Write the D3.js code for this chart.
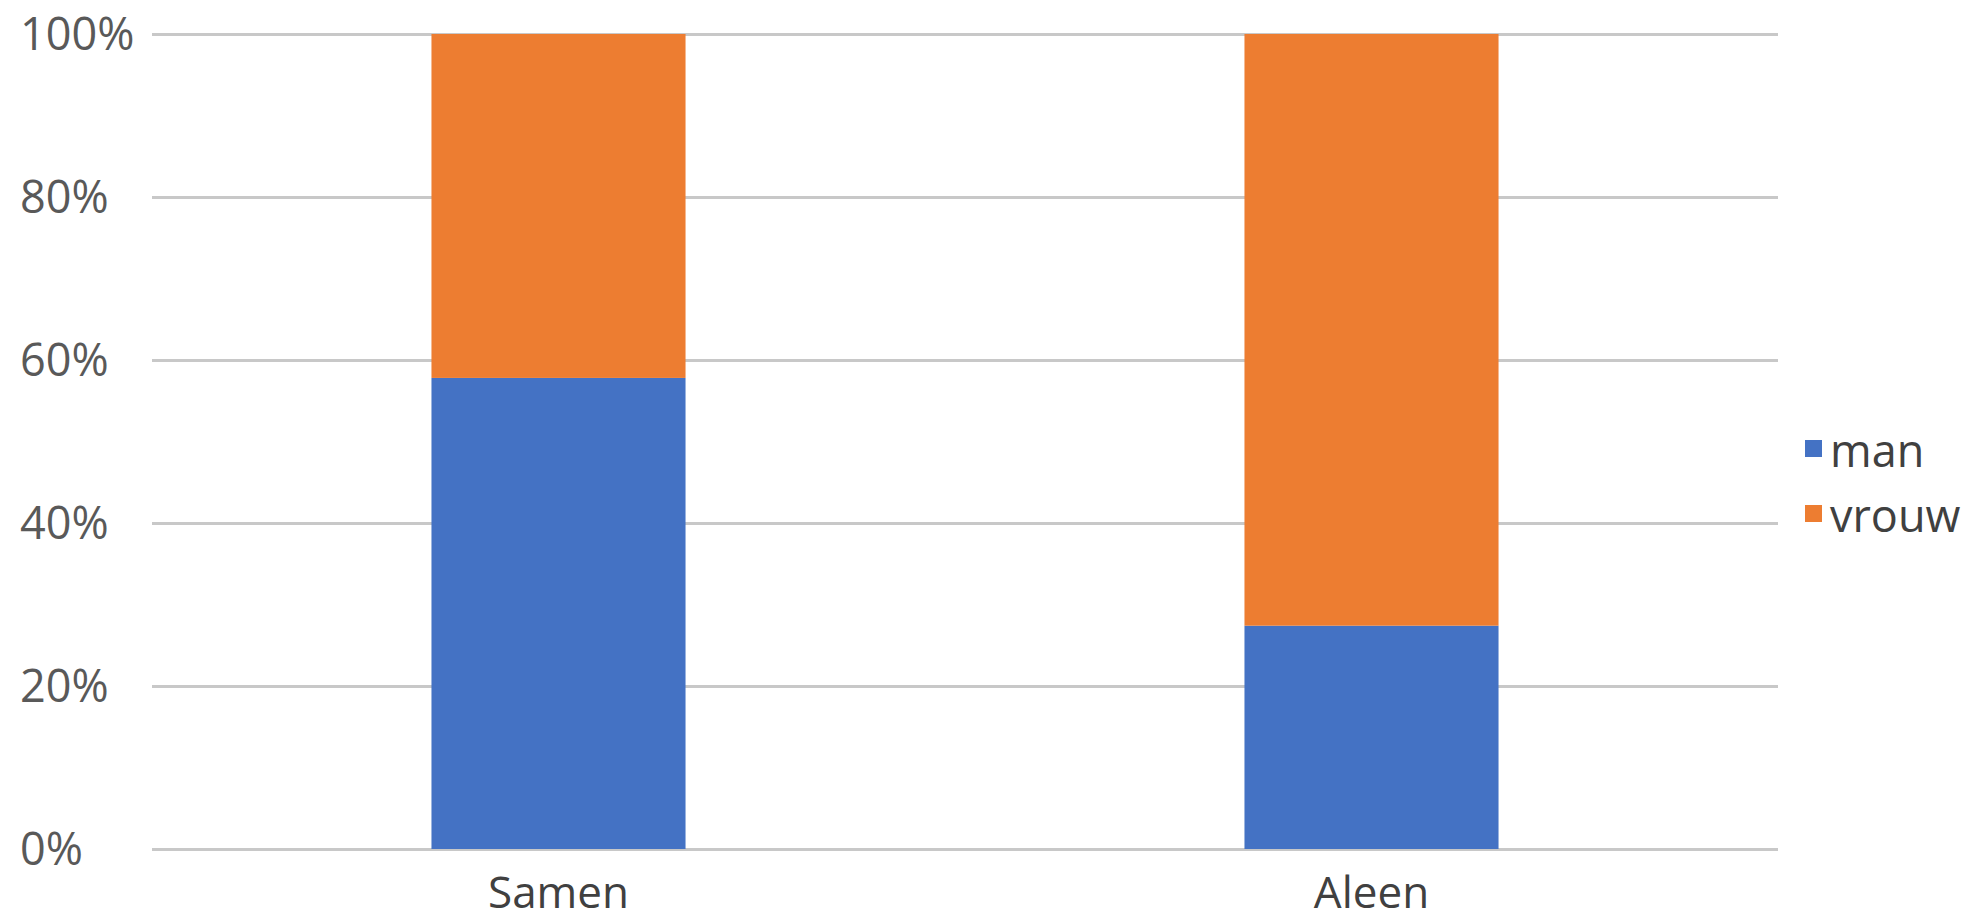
<!DOCTYPE html>
<html>
<head>
<meta charset="utf-8">
<script src="https://cdn.jsdelivr.net/npm/d3@7"></script>
<style>
  html, body { margin: 0; padding: 0; background: #ffffff; }
  svg { display: block; }
</style>
</head>
<body>
<svg id="chart" width="1972" height="920"></svg>
<script>
// ---- data ----
const categories = ["Samen", "Aleen"];
const seriesNames = ["man", "vrouw"];
const manValues = [57.8, 27.4];
const vrouwValues = [42.2, 72.6];
const yTicks = [0, 20, 40, 60, 80, 100];
const seriesColors = ["#4472C4", "#ED7D31"];

// ---- layout ----
const svg = d3.select("#chart");
const plot = { left: 152, right: 1778, top: 34, bottom: 849 };
const fontFamily = "'Open Sans', 'Noto Sans', sans-serif";

const x = d3.scaleBand()
  .domain(categories)
  .range([plot.left, plot.right])
  .paddingInner(0.6875)
  .paddingOuter(0.34375);

const y = d3.scaleLinear().domain([0, 100]).range([plot.bottom, plot.top]);

// table built from arrays
const table = categories.map((c, i) => ({ cat: c, man: manValues[i], vrouw: vrouwValues[i] }));
const stacked = d3.stack().keys(seriesNames)(table);

// gridlines via axis
const gridAxis = d3.axisLeft(y).tickValues(yTicks).tickSize(-(plot.right - plot.left)).tickFormat("");
const gridG = svg.append("g").attr("transform", `translate(${plot.left},0)`).call(gridAxis);
gridG.select(".domain").remove();
gridG.selectAll(".tick line").attr("stroke", "#c8c8c8").attr("stroke-width", 3);

// bars
const color = d3.scaleOrdinal().domain(seriesNames).range(seriesColors);
svg.append("g").selectAll("g")
  .data(stacked)
  .join("g")
  .attr("fill", d => color(d.key))
  .selectAll("rect")
  .data(d => d)
  .join("rect")
  .attr("x", d => x(d.data.cat))
  .attr("width", x.bandwidth())
  .attr("y", d => y(d[1]))
  .attr("height", d => y(d[0]) - y(d[1]));

// y labels (left-aligned)
const yLab = svg.append("g");
yLab.selectAll("text")
  .data(yTicks)
  .join("text")
  .attr("x", 20)
  .attr("y", d => y(d))
  .attr("dy", "0.35em")
  .attr("font-family", fontFamily)
  .attr("font-size", 45)
  .attr("fill", "#595959")
  .text(d => d + "%");

// x labels
const xAxis = d3.axisBottom(x).tickSize(0).tickPadding(0);
const xG = svg.append("g").attr("transform", `translate(0,${plot.bottom})`).call(xAxis);
xG.select(".domain").remove();
xG.selectAll(".tick text")
  .attr("y", 59)
  .attr("dy", 0)
  .attr("font-family", fontFamily)
  .attr("font-size", 44)
  .attr("fill", "#404040");

// legend
const legend = svg.append("g");
const leg = legend.selectAll("g")
  .data(seriesNames)
  .join("g")
  .attr("transform", (d, i) => `translate(1805,${440 + i * 65})`);
leg.append("rect")
  .attr("width", 17).attr("height", 17)
  .attr("fill", d => color(d));
leg.append("text")
  .attr("x", 25)
  .attr("y", 27)
  .attr("font-family", fontFamily)
  .attr("font-size", 45)
  .attr("fill", "#404040")
  .text(d => d);
</script>
</body>
</html>
